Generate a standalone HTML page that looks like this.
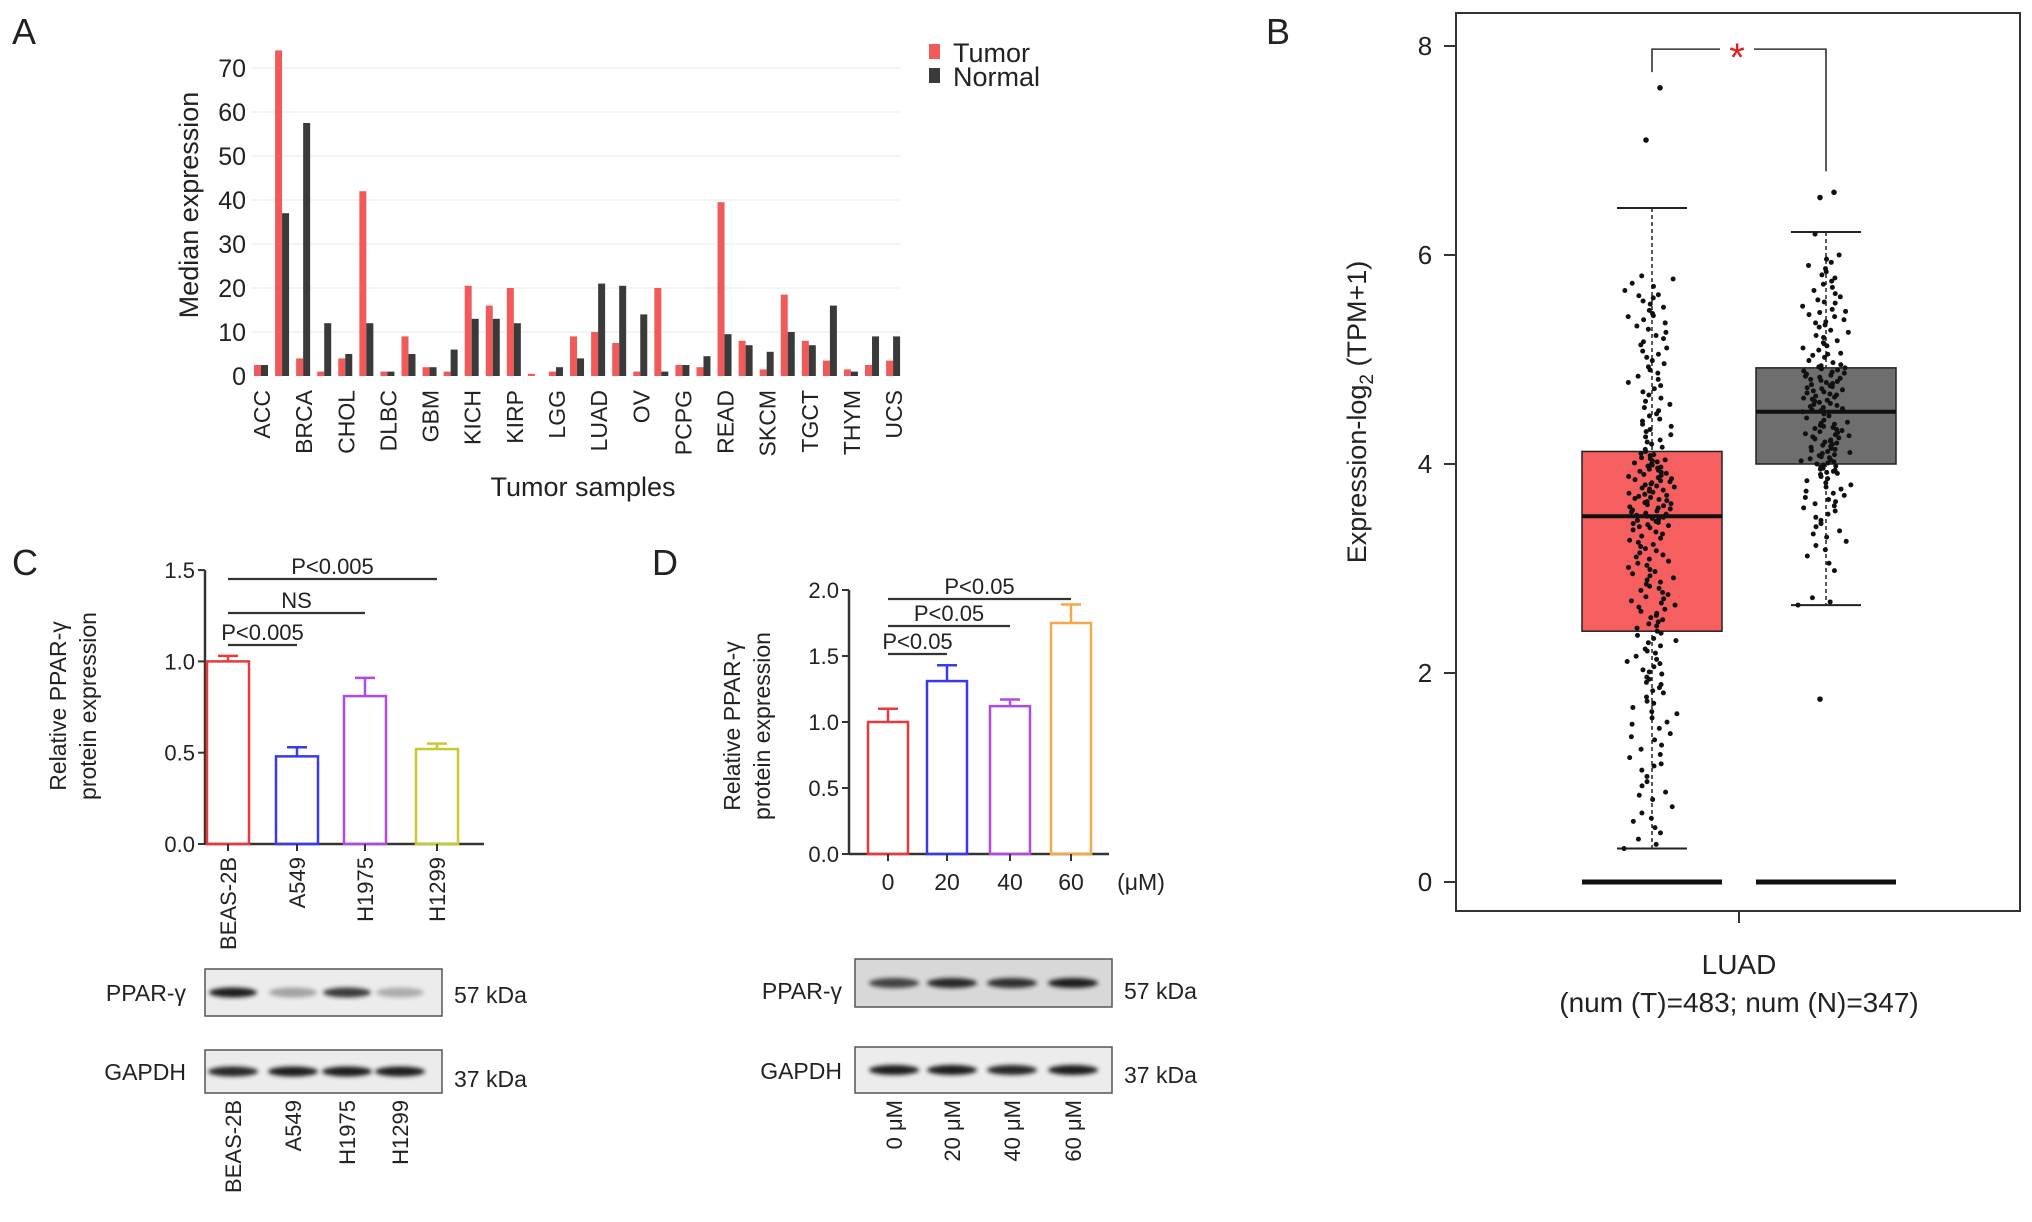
<!DOCTYPE html>
<html><head><meta charset="utf-8"><style>
html,body{margin:0;padding:0;background:#fff}
svg{display:block;font-family:"Liberation Sans",sans-serif}
</style></head><body>
<svg id="fig" width="2032" height="1222" viewBox="0 0 2032 1222" xmlns="http://www.w3.org/2000/svg">
<defs><filter id="blur" x="-20%" y="-50%" width="140%" height="200%"><feGaussianBlur stdDeviation="2.2"/></filter></defs>
</svg>
<script>
// ---------- Panel A data ----------
const aCategories = ["ACC","BLCA","BRCA","CESC","CHOL","COAD","DLBC","ESCA","GBM","HNSC","KICH","KIRC","KIRP","LAML","LGG","LIHC","LUAD","LUSC","OV","PAAD","PCPG","PRAD","READ","SARC","SKCM","STAD","TGCT","THCA","THYM","UCEC","UCS"];
const aShownLabels = ["ACC","BRCA","CHOL","DLBC","GBM","KICH","KIRP","LGG","LUAD","OV","PCPG","READ","SKCM","TGCT","THYM","UCS"];
const aTumor  = [2.5,74,4,1,4,42,1,9,2,1,20.5,16,20,0.5,1,9,10,7.5,1,20,2.5,2,39.5,8,1.5,18.5,8,3.5,1.5,2.5,3.5];
const aNormal = [2.5,37,57.5,12,5,12,1,5,2,6,13,13,12,0,2,4,21,20.5,14,1,2.5,4.5,9.5,7,5.5,10,7,16,1,9,9];
const aTicks = [0,10,20,30,40,50,60,70];
// ---------- Panel B data ----------
const bTicks = [0,2,4,6,8];
const bTumorBox = {q1:2.4, med:3.5, q3:4.12, lo:0.32, hi:6.45};
const bNormalBox = {q1:4.0, med:4.5, q3:4.92, lo:2.65, hi:6.22};
const bTumorOut = [7.1,7.6];
const bNormalOut = [6.55,6.6,1.75];
const bTumorPts = [0.32,0.36,0.41,0.47,0.52,0.58,0.61,0.66,0.72,0.79,0.83,0.86,0.92,0.96,1.01,1.07,1.11,1.13,1.19,1.22,1.27,1.31,1.36,1.39,1.42,1.47,1.51,1.53,1.57,1.61,1.63,1.67,1.71,1.73,1.77,1.81,1.83,1.86,1.89,1.91,1.94,1.96,1.99,2.01,2.03,2.06,2.09,2.11,2.13,2.16,2.19,2.21,2.23,2.26,2.29,2.31,2.33,2.36,2.38,2.4,
2.43,2.45,2.47,2.49,2.51,2.53,2.55,2.57,2.59,2.61,2.63,2.65,2.67,2.69,2.71,2.73,2.75,2.77,2.79,2.81,2.83,2.85,2.87,2.89,2.91,2.93,2.95,2.97,2.99,3.01,3.03,3.05,3.07,3.09,3.11,3.13,3.15,3.17,3.19,3.21,3.23,3.25,3.27,3.29,3.31,3.33,3.35,3.37,3.39,3.4,3.41,3.42,3.43,3.44,3.45,3.46,3.47,3.48,3.49,3.5,
3.51,3.52,3.53,3.54,3.55,3.56,3.57,3.58,3.59,3.6,3.61,3.62,3.63,3.64,3.65,3.66,3.67,3.68,3.69,3.7,3.71,3.72,3.73,3.74,3.75,3.76,3.77,3.78,3.79,3.8,3.81,3.82,3.83,3.84,3.85,3.86,3.87,3.88,3.89,3.9,3.91,3.92,3.93,3.94,3.95,3.96,3.97,3.98,3.99,4.0,4.01,4.02,4.03,4.04,4.05,4.06,4.08,4.09,4.1,4.12,
4.14,4.16,4.19,4.21,4.23,4.26,4.28,4.31,4.33,4.36,4.38,4.41,4.43,4.46,4.48,4.51,4.54,4.57,4.6,4.63,4.66,4.69,4.72,4.75,4.78,4.81,4.84,4.87,4.9,4.93,4.96,4.99,5.02,5.05,5.08,5.11,5.14,5.17,5.2,5.23,5.26,5.29,5.32,5.35,5.38,5.41,5.44,5.47,5.5,5.53,5.56,5.59,5.62,5.66,5.7,5.73,5.77,5.8,5.61,5.42];
const bNormalPts = [2.65,2.68,2.72,2.98,3.05,3.12,3.18,3.22,3.26,3.3,3.33,3.36,3.4,3.43,3.46,3.49,3.52,3.55,3.58,3.6,3.62,3.64,3.66,3.68,3.7,3.72,3.74,3.76,3.78,3.8,3.82,3.84,3.86,3.88,3.9,3.91,3.92,3.93,3.94,3.95,3.96,3.97,3.98,3.99,4.0,
4.01,4.02,4.03,4.04,4.05,4.06,4.07,4.08,4.09,4.1,4.11,4.12,4.13,4.14,4.15,4.16,4.17,4.18,4.19,4.2,4.21,4.22,4.23,4.24,4.25,4.26,4.27,4.28,4.29,4.3,4.31,4.32,4.33,4.34,4.35,4.36,4.37,4.38,4.39,4.4,4.42,4.44,4.46,4.48,4.5,
4.51,4.52,4.53,4.54,4.55,4.56,4.57,4.58,4.59,4.6,4.61,4.62,4.63,4.64,4.65,4.66,4.67,4.68,4.69,4.7,4.71,4.72,4.73,4.74,4.75,4.76,4.77,4.78,4.79,4.8,4.81,4.82,4.83,4.84,4.85,4.86,4.87,4.88,4.89,4.9,4.91,4.92,4.93,4.94,4.95,
4.97,4.99,5.02,5.04,5.06,5.09,5.11,5.13,5.16,5.18,5.21,5.23,5.26,5.28,5.31,5.33,5.36,5.38,5.41,5.43,5.46,5.48,5.51,5.54,5.57,5.6,5.63,5.66,5.69,5.72,5.75,5.78,5.81,5.84,5.87,5.9,5.93,5.96,6.0,5.55,5.35,5.15,5.05,6.2,5.45];
// ---------- Panel C data ----------
const cCategories = ["BEAS-2B","A549","H1975","H1299"];
const cValues = [1.0,0.48,0.81,0.52];
const cErrors = [0.03,0.05,0.1,0.03];
const cTicks = ["0.0","0.5","1.0","1.5"];
const cBand1 = [1.0,0.35,0.85,0.3];
const cBand2 = [0.95,1.0,1.0,1.0];
// ---------- Panel D data ----------
const dCategories = ["0","20","40","60"];
const dValues = [1.0,1.31,1.12,1.75];
const dErrors = [0.1,0.12,0.05,0.14];
const dTicks = ["0.0","0.5","1.0","1.5","2.0"];
const dBand1 = [0.8,0.95,0.9,1.0];
const dBand2 = [1.0,1.0,0.95,1.0];

const NS="http://www.w3.org/2000/svg";
const svg=document.getElementById('fig');
function mk(tag,attrs,parent){const e=document.createElementNS(NS,tag);for(const k in attrs)e.setAttribute(k,attrs[k]);(parent||svg).appendChild(e);return e;}
function txt(s,x,y,size,extra,name){const e=mk('text',Object.assign({x:x,y:y,'font-size':size,fill:'#222'},extra||{}));e.textContent=s;


return e;}

// Panel letters
txt("A",12,44,36,{},"panel-a-label");
txt("B",1266,44,36,{},"panel-b-label");
txt("C",12,575,36,{},"panel-c-label");
txt("D",652,575,36,{},"panel-d-label");

// ================= Panel A =================
const yA=v=>376-v*4.4;
const xA=i=>262+i*21.07;
aTicks.forEach(t=>{
  if(t>0){const g=mk('line',{x1:252,x2:901,y1:yA(t),y2:yA(t),stroke:'#f0f0f0','stroke-width':1.5});
  
  }
  txt(String(t),246,yA(t)+9,25,{'text-anchor':'end'},'a-y-tick-label');
});
aCategories.forEach((c,i)=>{
  const r=mk('rect',{x:xA(i)-8,y:yA(aTumor[i]),width:7,height:376-yA(aTumor[i]),fill:'#f05a5a'});
  
  
  const n=mk('rect',{x:xA(i)-1,y:yA(aNormal[i]),width:7,height:376-yA(aNormal[i]),fill:'#3a3a3a'});
  
  
  if(aShownLabels.indexOf(c)>=0){
    txt(c,0,0,23,{'text-anchor':'end',transform:`translate(${xA(i)+8},390) rotate(-90)`},'a-x-tick-label');
  }
});
txt("Median expression",0,0,27,{'text-anchor':'middle',transform:'translate(198,205) rotate(-90)'},'a-y-axis-title');
txt("Tumor samples",583,496,27,{'text-anchor':'middle'},'a-x-axis-title');
let e=mk('rect',{x:929,y:44,width:11,height:15,fill:'#f05a5a'});


txt("Tumor",953,62,27,{},'legend-tumor-label');
e=mk('rect',{x:929,y:68,width:11,height:15,fill:'#3a3a3a'});


txt("Normal",953,86,27,{},'legend-normal-label');

// ================= Panel B =================
const yB=v=>882-v*104.5;
e=mk('rect',{x:1456,y:13,width:564,height:898,fill:'none',stroke:'#333','stroke-width':2});


bTicks.forEach(t=>{
  const l=mk('line',{x1:1444,x2:1456,y1:yB(t),y2:yB(t),stroke:'#333','stroke-width':2});
  
  
  txt(String(t),1425,yB(t)+9,26,{'text-anchor':'middle'},'b-y-tick-label');
});
e=mk('line',{x1:1739,x2:1739,y1:911,y2:923,stroke:'#333','stroke-width':2});


txt("LUAD",1739,974,28,{'text-anchor':'middle'},'b-x-tick-label');
txt("(num (T)=483; num (N)=347)",1739,1012,28,{'text-anchor':'middle'},'b-x-sample-size-label');
const yt=txt("",0,0,27,{'text-anchor':'middle',transform:'translate(1366,412) rotate(-90)'},'b-y-axis-title');
yt.innerHTML='Expression-log<tspan font-size="19" dy="7">2</tspan><tspan dy="-7"> (TPM+1)</tspan>';

function drawBox(b,cx,fill,name,pts,outs){
  const w=70;
  const wl=mk('line',{x1:cx,x2:cx,y1:yB(b.hi),y2:yB(b.lo),stroke:'#222','stroke-width':1.5,'stroke-dasharray':'4,3'});
  
  
  [b.hi,b.lo].forEach(v=>{const c=mk('line',{x1:cx-35,x2:cx+35,y1:yB(v),y2:yB(v),stroke:'#222','stroke-width':2});
    
    });
  const r=mk('rect',{x:cx-w,y:yB(b.q3),width:2*w,height:yB(b.q1)-yB(b.q3),fill:fill,stroke:'#222','stroke-width':1.5});
  
  
  const z=mk('line',{x1:cx-w,x2:cx+w,y1:yB(0),y2:yB(0),stroke:'#111','stroke-width':5});
  
  
  pts.forEach((v,i)=>{const h=((i*0.618034)%1)*0.6+((i*i*0.137+i*0.371)%1)*0.4;
    const jx=(h-0.5)*56;
    const d=mk('circle',{cx:cx+jx,cy:yB(v),r:2.5,fill:'#111'});
    
    });
  outs.forEach((v,i)=>{const d=mk('circle',{cx:cx+(i%2?8:-6),cy:yB(v),r:2.8,fill:'#111'});
    
    });
  const m=mk('line',{x1:cx-w,x2:cx+w,y1:yB(b.med),y2:yB(b.med),stroke:'#111','stroke-width':4});
  
  
}
drawBox(bTumorBox,1652,'#f55f5f','b-tumor',bTumorPts,bTumorOut);
drawBox(bNormalBox,1826,'#6e6e6e','b-normal',bNormalPts,bNormalOut);
e=mk('path',{d:`M1652 ${yB(7.75)} V${yB(7.97)} H1720 M1754 ${yB(7.97)} H1826 V${yB(6.8)}`,fill:'none',stroke:'#333','stroke-width':1.6});


txt("*",1737,yB(7.97)+22,40,{'text-anchor':'middle',fill:'#e02020'},'b-significance-star');

// ================= Bar panels C & D =================
function barPanel(p){
  const y=v=>p.y0-v*p.k;
  let a=mk('line',{x1:p.ax,x2:p.ax,y1:y(p.max),y2:p.y0,stroke:'#333','stroke-width':2.5});
  
  
  a=mk('line',{x1:p.ax,x2:p.xend,y1:p.y0,y2:p.y0,stroke:'#333','stroke-width':2.5});
  
  
  p.ticks.forEach(t=>{const v=parseFloat(t);
    const l=mk('line',{x1:p.ax-7,x2:p.ax,y1:y(v),y2:y(v),stroke:'#333','stroke-width':2});
    
    
    txt(t,p.ax-10,y(v)+8,22,{'text-anchor':'end'},p.id+'-y-tick-label');});
  p.vals.forEach((v,i)=>{const cx=p.cx[i];
    const r=mk('rect',{x:cx-p.bw/2,y:y(v),width:p.bw,height:p.y0-y(v),fill:'none',stroke:p.colors[i],'stroke-width':2.5});
    
    
    const eb=mk('path',{d:`M${cx} ${y(v)} V${y(v+p.err[i])} M${cx-10} ${y(v+p.err[i])} H${cx+10}`,stroke:p.colors[i],'stroke-width':2.5,fill:'none'});
    
    
    const tk=mk('line',{x1:cx,x2:cx,y1:p.y0,y2:p.y0+7,stroke:'#333','stroke-width':2});
    
    });
  p.sig.forEach(s=>{const l=mk('line',{x1:p.cx[s[0]],x2:p.cx[s[1]],y1:s[2],y2:s[2],stroke:'#333','stroke-width':2.2});
    
    
    txt(s[3],(p.cx[s[0]]+p.cx[s[1]])/2,s[2]-5,22,{'text-anchor':'middle'},p.id+'-significance-label');});
}
barPanel({id:'c',ax:205,xend:484,y0:844,k:182.6,max:1.5,ticks:cTicks,vals:cValues,err:cErrors,cats:cCategories,
  cx:[228,297,365,437],bw:42,colors:['#e83a3a','#3a3ae8','#b04ae0','#c8c832'],
  sig:[[0,3,579,'P<0.005'],[0,2,613,'NS'],[0,1,645,'P<0.005']]});
cCategories.forEach((c,i)=>txt(c,0,0,22,{'text-anchor':'end',transform:`translate(${[228,297,365,437][i]+8},857) rotate(-90)`},'c-x-tick-label'));
txt("Relative PPAR-γ",0,0,23,{'text-anchor':'middle',transform:'translate(66,706) rotate(-90)'},'c-y-axis-title-line1');
txt("protein expression",0,0,23,{'text-anchor':'middle',transform:'translate(96,706) rotate(-90)'},'c-y-axis-title-line2');

barPanel({id:'d',ax:849,xend:1109,y0:854,k:132,max:2.0,ticks:dTicks,vals:dValues,err:dErrors,cats:dCategories,
  cx:[888,947,1010,1071],bw:40,colors:['#e83a3a','#3a3ae8','#b04ae0','#f5a84a'],
  sig:[[0,3,599,'P<0.05'],[0,2,626,'P<0.05'],[0,1,654,'P<0.05']]});
dCategories.forEach((c,i)=>txt(c,[888,947,1010,1071][i],890,23,{'text-anchor':'middle'},'d-x-tick-label'));
txt("(μM)",1141,890,23,{'text-anchor':'middle'},'d-x-unit-label');
txt("Relative PPAR-γ",0,0,23,{'text-anchor':'middle',transform:'translate(740,726) rotate(-90)'},'d-y-axis-title-line1');
txt("protein expression",0,0,23,{'text-anchor':'middle',transform:'translate(770,726) rotate(-90)'},'d-y-axis-title-line2');

// ================= Blots =================
function blot(id,x,y,w,h,bg,bandx,ints,bw,name){
  const r=mk('rect',{x:x,y:y,width:w,height:h,fill:bg,stroke:'#555','stroke-width':1.5});
  
  
  bandx.forEach((bx,i)=>{const b=mk('ellipse',{cx:bx,cy:y+h/2,rx:bw/2,ry:5,fill:'#1a1a1a',opacity:ints[i],filter:'url(#blur)'});
    
    });
}
const cBx=[233,293,347,400], dBx=[894,952,1012,1073];
blot('c',205,969,237,47,'#ececec',cBx,cBand1,48,'ppar');
blot('c',205,1050,237,43,'#ececec',cBx,cBand2,50,'gapdh');
txt("PPAR-γ",186,1001,23,{'text-anchor':'end'},'c-ppar-label');
txt("GAPDH",186,1080,23,{'text-anchor':'end'},'c-gapdh-label');
txt("57 kDa",454,1003,23,{},'c-ppar-kda');
txt("37 kDa",454,1087,23,{},'c-gapdh-kda');
cCategories.forEach((c,i)=>txt(c,0,0,22,{'text-anchor':'end',transform:`translate(${cBx[i]+8},1100) rotate(-90)`},'c-blot-lane-label'));
blot('d',855,959,257,48,'#d8d8d8',dBx,dBand1,50,'ppar');
blot('d',855,1047,257,46,'#ececec',dBx,dBand2,50,'gapdh');
txt("PPAR-γ",842,999,23,{'text-anchor':'end'},'d-ppar-label');
txt("GAPDH",842,1079,23,{'text-anchor':'end'},'d-gapdh-label');
txt("57 kDa",1124,999,23,{},'d-ppar-kda');
txt("37 kDa",1124,1083,23,{},'d-gapdh-kda');
dCategories.forEach((c,i)=>txt(c+" μM",0,0,22,{'text-anchor':'end',transform:`translate(${dBx[i]+8},1100) rotate(-90)`},'d-blot-lane-label'));
</script>
</body></html>
